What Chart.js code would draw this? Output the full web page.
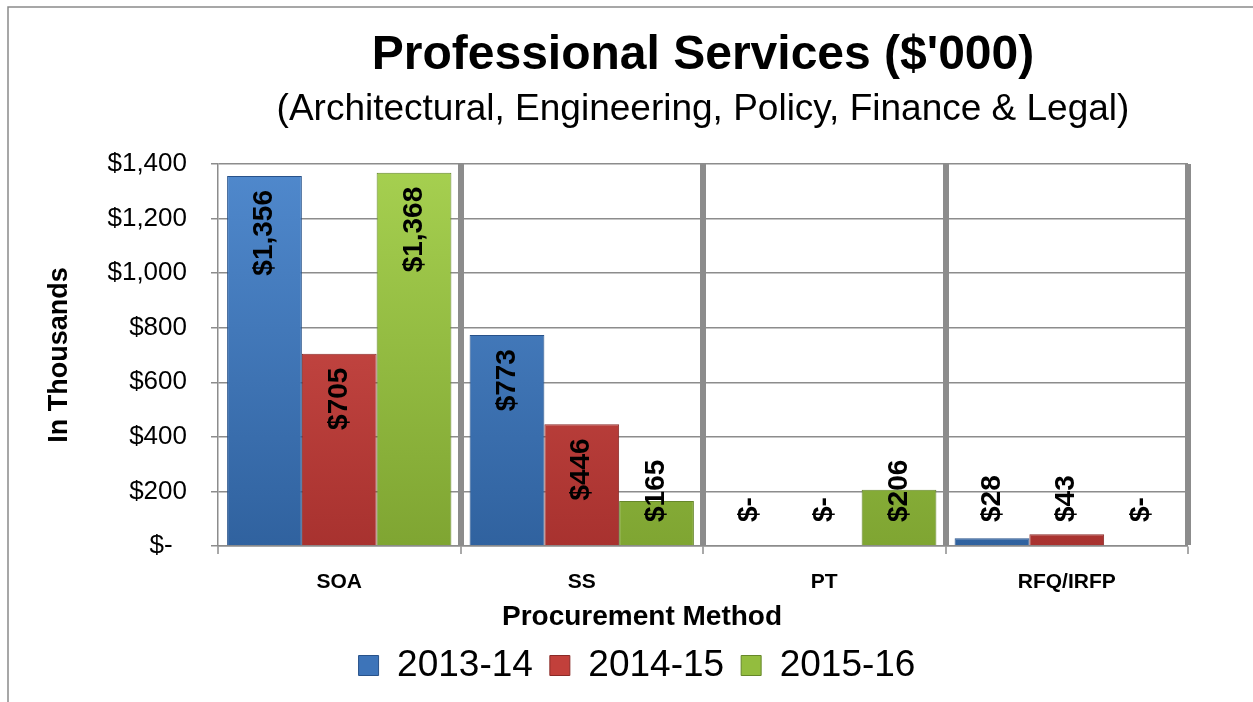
<!DOCTYPE html>
<html>
<head>
<meta charset="utf-8">
<script src="https://cdn.jsdelivr.net/npm/chart.js@4.4.1/dist/chart.umd.min.js"></script>
<style>
  html, body { margin: 0; padding: 0; background: #fff; }
  #wrap { width: 1253px; height: 702px; }
</style>
</head>
<body>
<div id="wrap"><canvas id="chart"></canvas></div>
<script>
// values in $'000
const categories = ['SOA', 'SS', 'PT', 'RFQ/IRFP'];
const seriesNames = ['2013-14', '2014-15', '2015-16'];
const values1314 = [1356, 773, 0, 28];
const values1415 = [705, 446, 0, 43];
const values1516 = [1368, 165, 206, 0];
const yMin = 0;
const yMax = 1400;
const yStep = 200;

const chartTitle = 'Professional Services ($\'000)';
const chartSubtitle = '(Architectural, Engineering, Policy, Finance & Legal)';
const yAxisTitle = 'In Thousands';
const xAxisTitle = 'Procurement Method';

const FONT = '"Liberation Sans", Arial, sans-serif';
const GRID = '#8c8c8c';

const palette = [
  { top: '#5089cd', bottom: '#30629f', edge: '#28528a', key: '#3d74b9' },
  { top: '#d6534e', bottom: '#a8322f', edge: '#8a2a27', key: '#c2403b' },
  { top: '#a6d050', bottom: '#7fa532', edge: '#66872a', key: '#93bd3e' }
];

function money(v) {
  return v === 0 ? '$-' : '$' + v.toLocaleString('en-US');
}

function barFill(i) {
  return (c) => {
    const area = c.chart.chartArea;
    if (!area) return palette[i].key;
    const g = c.chart.ctx.createLinearGradient(0, area.top, 0, area.bottom);
    g.addColorStop(0, palette[i].top);
    g.addColorStop(1, palette[i].bottom);
    return g;
  };
}

// rotated value labels, Excel style "inside end" that slides up for short bars
const barLabels = {
  id: 'barLabels',
  afterDatasetsDraw(chart) {
    const ctx = chart.ctx;
    const base = chart.scales.y.getPixelForValue(0);
    ctx.save();
    ctx.font = 'bold 28px ' + FONT;
    ctx.fillStyle = '#000';
    ctx.textAlign = 'left';
    ctx.textBaseline = 'middle';
    chart.data.datasets.forEach((ds, i) => {
      chart.getDatasetMeta(i).data.forEach((bar, j) => {
        const text = money(ds.data[j]);
        const w = ctx.measureText(text).width;
        const top = Math.min(bar.y + 14, base - 24 - w);
        ctx.save();
        ctx.translate(bar.x, top + w);
        ctx.rotate(-Math.PI / 2);
        ctx.fillText(text, 0, 0);
        ctx.restore();
      });
    });
    ctx.restore();
  }
};

const xTitle = {
  id: 'xTitle',
  afterDraw(chart) {
    const { ctx, legend, scales } = chart;
    ctx.save();
    ctx.font = 'bold 28px ' + FONT;
    ctx.fillStyle = '#000';
    ctx.textAlign = 'center';
    ctx.textBaseline = 'middle';
    ctx.fillText(xAxisTitle, (legend.left + legend.right) / 2 + 5, scales.x.top + 71);
    ctx.restore();
  }
};

const frame = {
  id: 'frame',
  beforeDraw(chart) {
    const ctx = chart.ctx;
    ctx.save();
    ctx.strokeStyle = '#8a8a8a';
    ctx.lineWidth = 1.5;
    ctx.beginPath();
    ctx.moveTo(8, chart.height);
    ctx.lineTo(8, 7);
    ctx.lineTo(chart.width, 7);
    ctx.stroke();
    ctx.restore();
  }
};

const datasets = [values1314, values1415, values1516].map((vals, i) => ({
  label: seriesNames[i],
  data: vals,
  backgroundColor: barFill(i),
  borderColor: palette[i].edge,
  borderWidth: 1,
  categoryPercentage: 0.925,
  barPercentage: 1.0
}));

new Chart(document.getElementById('chart'), {
  type: 'bar',
  data: { labels: categories, datasets: datasets },
  plugins: [frame, barLabels, xTitle],
  options: {
    responsive: true,
    maintainAspectRatio: false,
    animation: false,
    layout: { padding: { left: 35, right: 14, top: 10, bottom: 8 } },
    scales: {
      x: {
        grid: {
          offset: true,
          color: GRID,
          lineWidth: (c) => (c.index === 0 ? 0 : 6),
          tickLength: 8,
          tickColor: GRID,
          tickWidth: 1.5
        },
        border: { color: GRID, width: 1.5 },
        ticks: { color: '#000', padding: 16, font: { family: FONT, size: 21, weight: 'bold' } },
        afterFit: (s) => { s.height = 84; }
      },
      y: {
        min: yMin,
        max: yMax,
        ticks: {
          stepSize: yStep,
          padding: 24,
          color: '#000',
          font: { family: FONT, size: 26 },
          callback: (v) => (v === 0 ? '$-  ' : money(v))
        },
        grid: { color: GRID, lineWidth: 1.5, tickLength: 7 },
        border: { color: GRID, width: 1.5 },
        title: {
          display: true,
          text: yAxisTitle,
          color: '#000',
          font: { family: FONT, size: 27, weight: 'bold' },
          padding: { top: 8, bottom: 0 }
        },
        afterFit: (s) => { s.width = 183; }
      },
      pad: {
        type: 'linear',
        position: 'right',
        grid: { display: false },
        ticks: { display: false },
        border: { display: false },
        afterFit: (s) => { s.width = 51; }
      }
    },
    plugins: {
      title: {
        display: true,
        fullSize: false,
        text: chartTitle,
        color: '#000',
        font: { family: FONT, size: 48, weight: 'bold' },
        padding: { top: 17, bottom: 0 }
      },
      subtitle: {
        display: true,
        fullSize: false,
        text: chartSubtitle,
        color: '#000',
        font: { family: FONT, size: 37 },
        padding: { top: 3, bottom: 32 }
      },
      legend: {
        position: 'bottom',
        labels: {
          color: '#000',
          font: { family: FONT, size: 37 },
          boxWidth: 20,
          boxHeight: 20,
          padding: 17,
          generateLabels: () => seriesNames.map((name, i) => ({
            text: name,
            fillStyle: palette[i].key,
            strokeStyle: palette[i].edge,
            lineWidth: 1,
            hidden: false,
            datasetIndex: i
          }))
        }
      },
      tooltip: { enabled: false }
    }
  }
});
</script>
</body>
</html>
